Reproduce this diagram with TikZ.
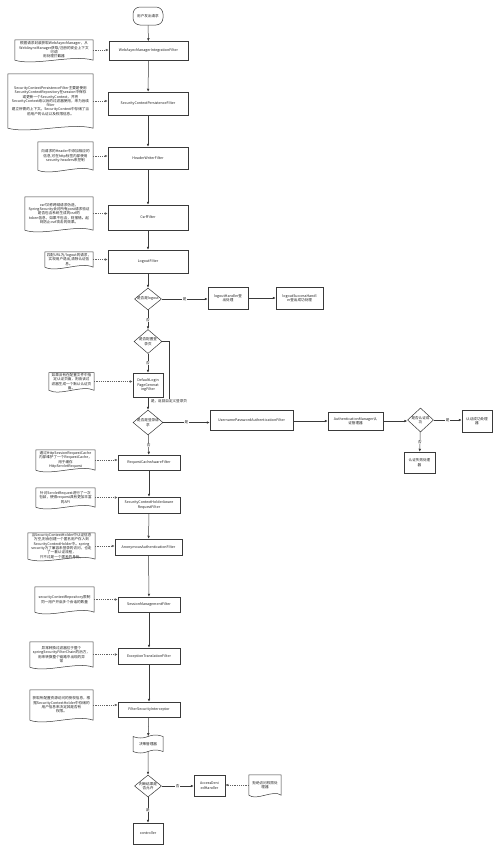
\documentclass[tikz,border=0pt]{standalone}
\usepackage{fontspec}
\setmainfont{Noto Sans CJK SC}
\usetikzlibrary{shapes.geometric,shapes.symbols,arrows.meta,calc}
\newcommand\myft{\fontsize{3.6}{4.3}\selectfont}
\definecolor{linec}{HTML}{3A3A3A}
\definecolor{txtc}{HTML}{222222}
\tikzset{
  box/.style={draw=linec, line width=0.5pt, fill=white, font=\myft, text=txtc, align=center, inner sep=0.5pt},
  note/.style={font=\myft, text=txtc, align=center, inner sep=0.5pt},
  dia/.style={diamond, draw=linec, line width=0.5pt, fill=white, inner sep=0pt},
  dtext/.style={font=\myft, text=txtc, align=center, inner sep=0pt},
  arr/.style={draw=linec, line width=0.5pt, -{Latex[length=3pt,width=2.6pt]}},
  darr/.style={draw=linec!80, line width=0.45pt, dashed, dash pattern=on 1.2pt off 1pt, -{Latex[length=3pt,width=2.6pt]}},
  lbl/.style={fill=white, font=\myft, text=txtc, inner sep=0.6pt},
}
\begin{document}
\begin{tikzpicture}[x=1pt,y=-1pt]
\useasboundingbox[fill=white] (0,0) rectangle (500,852);

% main column
\node[box, rounded corners=7pt, minimum width=30pt, minimum height=18pt] (start) at (148,16) {用户发出请求};
\node[box, minimum width=79pt, minimum height=19pt] (b1) at (148.5,51) {WebAsyncManagerIntegrationFilter};
\node[box, minimum width=80pt, minimum height=23pt] (b2) at (148,103.5) {SecurityContextPersistenceFilter};
\node[box, minimum width=80pt, minimum height=22pt] (b3) at (148,158) {HeaderWriterFilter};
\node[box, minimum width=80pt, minimum height=25pt] (b4) at (148,217.5) {CsrfFilter};
\node[box, minimum width=80pt, minimum height=23pt] (b5) at (148,261.5) {LogoutFilter};

\node[dia, minimum width=27pt, minimum height=22pt, label={[dtext]center:是否是logout}] (d1) at (148,299) {};
\node[box, minimum width=40pt, minimum height=22pt] (lh) at (228,298) {logoutHandler登\\出处理};
\node[box, minimum width=47pt, minimum height=22pt] (lsh) at (299.5,298) {logoutSuccessHandl\\er登出成功处理};

\node[dia, minimum width=28pt, minimum height=24pt, label={[dtext]center:{是否配置登\\录页}}] (d2) at (148,341.5) {};
\node[box, minimum width=30pt, minimum height=24pt] (dl) at (148,385) {DefaultLogin\\PageGenerat\\ingFilter};

\node[dia, minimum width=30pt, minimum height=25pt, label={[dtext]center:{是否是登录请\\求}}] (d3) at (148,422.5) {};
\node[box, minimum width=83pt, minimum height=20pt] (up) at (251.5,420) {UsernamePasswordAuthenticationFilter};
\node[box, minimum width=55pt, minimum height=18pt] (am) at (355.5,421) {AuthenticationManager认\\证管理器};
\node[dia, minimum width=26pt, minimum height=24pt, label={[dtext]center:{是否认证成\\功}}] (d4) at (420.5,420) {};
\node[box, minimum width=30pt, minimum height=22pt] (ok) at (477,421) {认证成功处理\\器};
\node[box, minimum width=31pt, minimum height=21pt] (fail) at (419.5,462.5) {认证失败处理\\器};

\node[box, minimum width=62pt, minimum height=15pt] (b6) at (149,462.5) {RequestCacheAwareFilter};
\node[box, minimum width=62pt, minimum height=16pt] (b7) at (149,505) {SecurityContextHolderAware\\RequestFilter};
\node[box, minimum width=67pt, minimum height=16pt] (b8) at (148.5,547) {AnonymousAuthenticationFilter};
\node[box, minimum width=62pt, minimum height=15pt] (b9) at (149,604.5) {SessionManagementFilter};
\node[box, minimum width=62pt, minimum height=16pt] (b10) at (149,656) {ExceptionTranslationFilter};
\node[box, minimum width=62pt, minimum height=15pt] (b11) at (149,709.5) {FilterSecurityInterceptor};

\node[tape, draw=linec, line width=0.5pt, fill=white, tape bend height=3pt, minimum width=30pt, minimum height=18pt, font=\myft, text=txtc, inner sep=0.5pt] (doc) at (148,744) {决策管理器};
\node[dia, minimum width=27pt, minimum height=22pt, label={[dtext]center:{判断结果是\\否允许}}] (d5) at (148,786) {};
\node[box, minimum width=31pt, minimum height=21pt] (adh) at (209.5,785.5) {AccessDeni\\edHandler};
\node[box, minimum width=30pt, minimum height=21pt] (ctrl) at (148,833.5) {controller};

% notes (document shapes)
\node[note, minimum width=78pt, minimum height=20pt] (n1) at (54,50) {根据请求封装获取WebAsyncManager，从\\WebAsyncManager获取/注册的安全上下文\\可调\\用处理拦截器};
\node[note, minimum width=85pt, minimum height=54pt] (n2) at (50.5,101) {SecurityContextPersistenceFilter主要是使用\\SecurityContextRepository在session中保存\\或更新一个SecurityContext，并将\\SecurityContext给以后的过滤器使用，来为后续\\filter\\建立所需的上下文。SecurityContext中存储了当\\前用户的认证以及权限信息。};
\node[note, minimum width=55pt, minimum height=28pt] (n3) at (65.5,156) {向请求的Header中添加相应的\\信息,可在http标签内部使用\\security:headers来控制};
\node[note, minimum width=68pt, minimum height=33pt] (n4) at (59,213.5) {csrf又称跨域请求伪造，\\SpringSecurity会对所有post请求验证\\是否包含系统生成的csrf的\\token信息，如果不包含，则报错。起\\到防止csrf攻击的效果。};
\node[note, minimum width=48pt, minimum height=15pt] (n5) at (69,259.5) {匹配URL为/logout的请求，\\实现用户退出,清除认证信\\息。};
\node[note, minimum width=45pt, minimum height=17pt] (n6) at (71.5,381.5) {如果没有在配置文件中指\\定认证页面，则由该过\\滤器生成一个默认认证页\\面。};
\node[note, minimum width=59pt, minimum height=20pt] (n7) at (65.5,460) {通过HttpSessionRequestCache\\内部维护了一个RequestCache，\\用于缓存\\HttpServletRequest};
\node[note, minimum width=59pt, minimum height=19pt] (n8) at (65.5,497.5) {针对ServletRequest进行了一次\\包装，使得request具有更加丰富\\的API};
\node[note, minimum width=67pt, minimum height=24pt] (n9) at (61.5,546) {当SecurityContextHolder中认证信息\\为空,则会创建一个匿名用户存入到\\SecurityContextHolder中。spring\\security为了兼容未登录的访问，也走\\了一套认证流程，\\只不过是一个匿名的身份。};
\node[note, minimum width=59pt, minimum height=25pt] (n10) at (64.5,599.5) {securityContextRepository限制\\同一用户开启多个会话的数量};
\node[note, minimum width=63pt, minimum height=25pt] (n11) at (61.5,654.5) {异常转换过滤器位于整个\\springSecurityFilterChain的后方，\\用来转换整个链路中出现的异\\常};
\node[note, minimum width=63pt, minimum height=30pt] (n12) at (61.5,705) {获取所配置资源访问的授权信息，根\\据SecurityContextHolder中存储的\\用户信息来决定其是否有\\权限。};
\node[note, minimum width=32pt, minimum height=20pt] (n13) at (265,785) {拒绝访问权限处\\理器};

\foreach \n in {n1,n2,n3,n4,n5,n6,n7,n8,n9,n10,n11,n12,n13}{
  \draw[linec, line width=0.5pt] (\n.south west) -- (\n.north west) -- (\n.north east) -- (\n.south east)
    .. controls ($(\n.south east)!0.5!(\n.south)+(0,-6)$) and ($(\n.south west)!0.5!(\n.south)+(0,6)$) .. (\n.south west);
}

% main flow
\draw[arr] (start) -- (b1);
\draw[arr] (b1) -- (b2);
\draw[arr] (b2) -- (b3);
\draw[arr] (b3) -- (b4);
\draw[arr] (b4) -- (b5);
\draw[arr] (b5) -- (d1);
\draw[arr] (d1.east) -- node[lbl]{是} (lh.west |- d1.east);
\draw[arr] (lh) -- (lsh);
\draw[arr] (d1) -- node[lbl]{否} (d2);
\draw[arr] (d2) -- node[lbl]{否} (dl);
\draw[draw=linec, line width=0.5pt] (d2.east) -| (169,401) node[lbl]{是，返回自定义登录页};
\draw[arr] (dl) -- (d3);
\draw[arr] (d3.east) -- node[lbl]{是} (up.west |- d3.east);
\draw[arr] (up.east |- am.west) -- (am.west);
\draw[arr] (am.east) -- (d4.west |- am.east);
\draw[arr] (d4.east) -- node[lbl]{是} (ok.west |- d4.east);
\draw[arr] (d4) -- node[lbl]{否} (fail);
\draw[arr] (d3) -- node[lbl]{否} (b6);
\draw[arr] (b6) -- (b7);
\draw[arr] (b7) -- (b8);
\draw[arr] (b8) -- (b9);
\draw[arr] (b9) -- (b10);
\draw[arr] (b10) -- (b11);
\draw[arr] (b11) -- (doc);
\draw[arr] (doc) -- (d5);
\draw[arr] (d5.east) -- node[lbl]{否} (adh.west |- d5.east);
\draw[arr] (d5) -- node[lbl]{是} (ctrl);

% notes to filters
\draw[darr] (n1.east) -- (b1.west |- n1.east);
\draw[darr] (n2.east) -- (b2.west |- n2.east);
\draw[darr] (n3.east) -- (b3.west |- n3.east);
\draw[darr] (n4.east) -- (b4.west |- n4.east);
\draw[darr] (n5.east) -- (b5.west |- n5.east);
\draw[darr] (n6.east) -- (dl.west |- n6.east);
\draw[darr] (n7.east) -- (b6.west |- n7.east);
\draw[darr] (n8.east) -- (b7.west |- n8.east);
\draw[darr] (n9.east) -- (b8.west |- n9.east);
\draw[darr] (n10.east) -- (b9.west |- n10.east);
\draw[darr] (n11.east) -- (b10.west |- n11.east);
\draw[darr] (n12.east) -- (b11.west |- n12.east);
\draw[darr] (n13.west) -- (adh.east |- n13.west);
\end{tikzpicture}
\end{document}
